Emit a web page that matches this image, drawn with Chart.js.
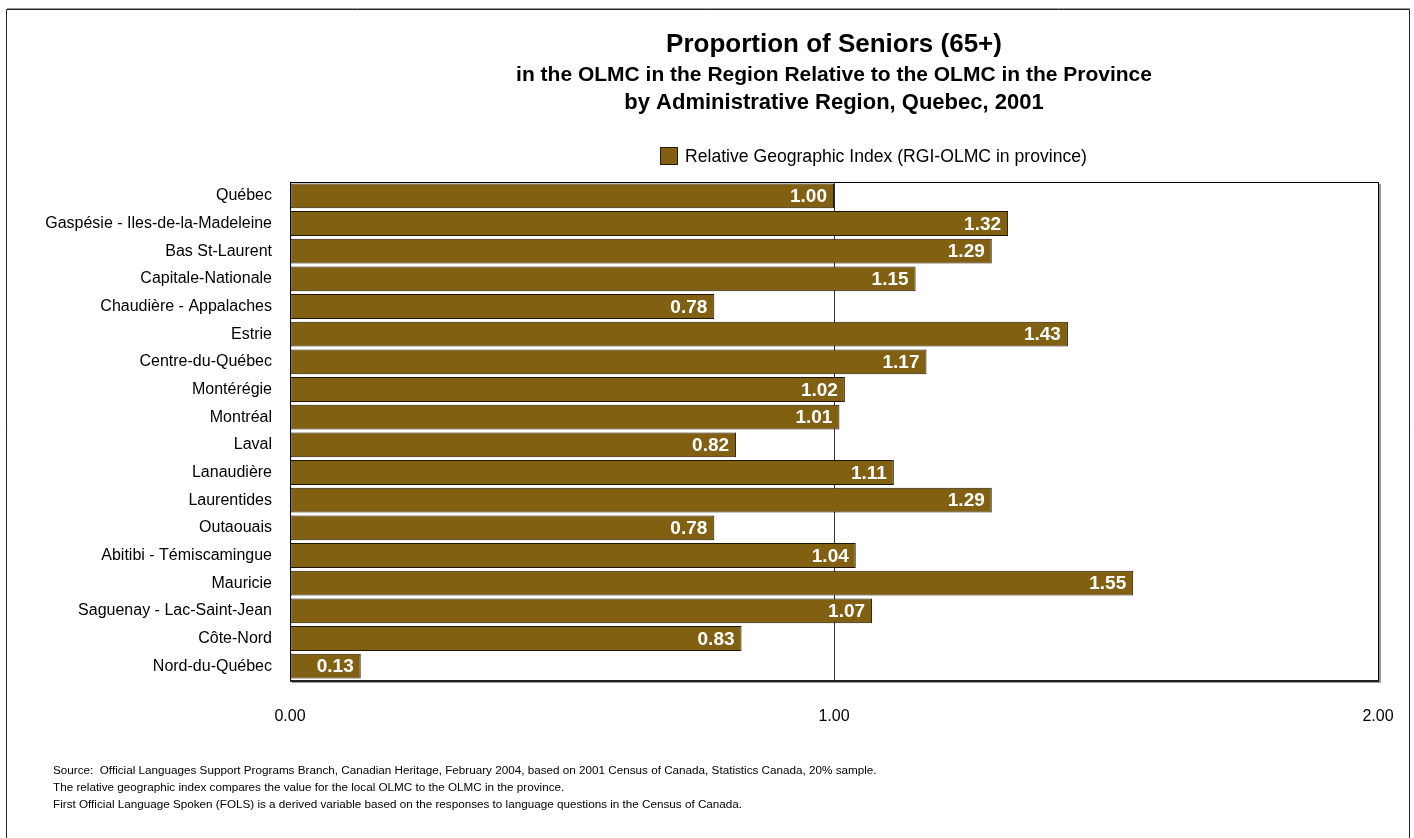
<!DOCTYPE html>
<html>
<head>
<meta charset="utf-8">
<title>Proportion of Seniors (65+) - Quebec 2001</title>
<script src="https://cdn.jsdelivr.net/npm/chart.js@4/dist/chart.umd.min.js"></script>
<style>
    html, body { margin: 0; padding: 0; background: #fff; }
    #chart { display: block; }
</style>
</head>
<body>
<canvas id="chart" width="1414" height="838"></canvas>
<script>
// Administrative regions and their relative geographic index
const regions = [
    'Québec',
    'Gaspésie - Iles-de-la-Madeleine',
    'Bas St-Laurent',
    'Capitale-Nationale',
    'Chaudière - Appalaches',
    'Estrie',
    'Centre-du-Québec',
    'Montérégie',
    'Montréal',
    'Laval',
    'Lanaudière',
    'Laurentides',
    'Outaouais',
    'Abitibi - Témiscamingue',
    'Mauricie',
    'Saguenay - Lac-Saint-Jean',
    'Côte-Nord',
    'Nord-du-Québec'
];
const rgiValues = [1.00, 1.32, 1.29, 1.15, 0.78, 1.43, 1.17, 1.02, 1.01, 0.82, 1.11, 1.29, 0.78, 1.04, 1.55, 1.07, 0.83, 0.13];
const xTicks = [0, 1, 2];

const seriesLabel = 'Relative Geographic Index (RGI-OLMC in province)';
const titleLines = [
    'Proportion of Seniors (65+)',
    'in the OLMC in the Region Relative to the OLMC in the Province',
    'by Administrative Region, Quebec, 2001'
];
const notes = [
    'Source:  Official Languages Support Programs Branch, Canadian Heritage, February 2004, based on 2001 Census of Canada, Statistics Canada, 20% sample.',
    'The relative geographic index compares the value for the local OLMC to the OLMC in the province.',
    'First Official Language Spoken (FOLS) is a derived variable based on the responses to language questions in the Census of Canada.'
];

const barColor = '#826012';
const FONT = 'Arial, "Liberation Sans", Helvetica, sans-serif';

// Frame, titles, legend, plot border and notes
const decorations = {
    id: 'decorations',
    beforeDraw(chart) {
        const ctx = chart.ctx;
        const area = chart.chartArea;
        ctx.save();
        ctx.fillStyle = '#fff';
        ctx.fillRect(0, 0, chart.width, chart.height);

        // outer frame
        ctx.strokeStyle = '#999';
        ctx.lineWidth = 1;
        ctx.beginPath();
        ctx.moveTo(7, 8.5);
        ctx.lineTo(1410, 8.5);
        ctx.stroke();
        ctx.strokeStyle = '#222';
        ctx.beginPath();
        ctx.moveTo(6.5, 840);
        ctx.lineTo(6.5, 9.5);
        ctx.lineTo(1409.5, 9.5);
        ctx.lineTo(1409.5, 840);
        ctx.stroke();

        // titles
        const cx = (area.left + area.right) / 2;
        ctx.fillStyle = '#000';
        ctx.textAlign = 'center';
        ctx.textBaseline = 'middle';
        ctx.font = 'bold 26px ' + FONT;
        ctx.fillText(titleLines[0], cx, 45);
        ctx.font = 'bold 21px ' + FONT;
        ctx.fillText(titleLines[1], cx, 75);
        ctx.font = 'bold 22px ' + FONT;
        ctx.fillText(titleLines[2], cx, 103);

        // legend
        ctx.fillStyle = barColor;
        ctx.fillRect(660.5, 147.5, 17, 17);
        ctx.strokeStyle = '#2a1e00';
        ctx.strokeRect(660.5, 147.5, 17, 17);
        ctx.fillStyle = '#000';
        ctx.textAlign = 'left';
        ctx.font = '17.6px ' + FONT;
        ctx.fillText(seriesLabel, 685, 157);

        // notes
        ctx.font = '11.7px ' + FONT;
        notes.forEach((line, i) => ctx.fillText(line, 53, 771 + i * 17));
        ctx.restore();
    },
    afterDatasetsDraw(chart) {
        const ctx = chart.ctx;
        const a = chart.chartArea;
        ctx.save();
        // shadow on the right and bottom of the plot
        ctx.fillStyle = '#9a9a9a';
        ctx.fillRect(a.right + 1, a.top + 2, 2, a.bottom - a.top + 1);
        ctx.fillRect(a.left + 2, a.bottom + 1, a.right - a.left + 1, 2);
        ctx.strokeStyle = '#000';
        ctx.lineWidth = 1;
        ctx.strokeRect(a.left + 0.5, a.top + 0.5, a.right - a.left, a.bottom - a.top);
        ctx.fillStyle = '#222';
        ctx.fillRect(a.left, a.bottom, a.right - a.left + 1, 2);

        // value labels inside the bar ends
        const meta = chart.getDatasetMeta(0);
        ctx.fillStyle = '#fff';
        ctx.font = 'bold 19px ' + FONT;
        ctx.textAlign = 'right';
        ctx.textBaseline = 'middle';
        meta.data.forEach((bar, i) => {
            ctx.fillText(rgiValues[i].toFixed(2), bar.x - 7, bar.y + 1);
        });
        ctx.restore();
    }
};

new Chart(document.getElementById('chart'), {
    type: 'bar',
    data: {
        labels: regions,
        datasets: [{
            label: seriesLabel,
            data: rgiValues,
            backgroundColor: barColor,
            borderColor: '#1e1500',
            borderWidth: 1,
            borderSkipped: false,
            barPercentage: 0.9,
            categoryPercentage: 1.0
        }]
    },
    options: {
        indexAxis: 'y',
        responsive: false,
        animation: false,
        layout: {
            padding: { left: 8, right: 36, top: 182, bottom: 108 }
        },
        plugins: {
            legend: { display: false },
            tooltip: { enabled: false }
        },
        scales: {
            x: {
                min: 0,
                max: 2,
                afterBuildTicks(scale) {
                    scale.ticks = xTicks.map(v => ({ value: v }));
                },
                afterFit(scale) {
                    // fixed axis band; keep the end labels from squeezing the plot
                    scale.height = 50;
                    scale.paddingLeft = 0;
                    scale.paddingRight = 0;
                },
                border: { display: false },
                grid: {
                    drawTicks: false,
                    color: ctx => (ctx.tick && ctx.tick.value === 1 ? '#333' : 'rgba(0,0,0,0)'),
                    lineWidth: 1
                },
                ticks: {
                    padding: 27,
                    color: '#000',
                    font: { family: FONT, size: 16 },
                    callback: v => Number(v).toFixed(2)
                }
            },
            y: {
                afterFit(scale) {
                    scale.width = 282;
                },
                border: { display: false },
                grid: { display: false, drawTicks: false },
                ticks: {
                    padding: 18,
                    color: '#000',
                    autoSkip: false,
                    font: { family: FONT, size: 16 }
                }
            }
        }
    },
    plugins: [decorations]
});
</script>
</body>
</html>
